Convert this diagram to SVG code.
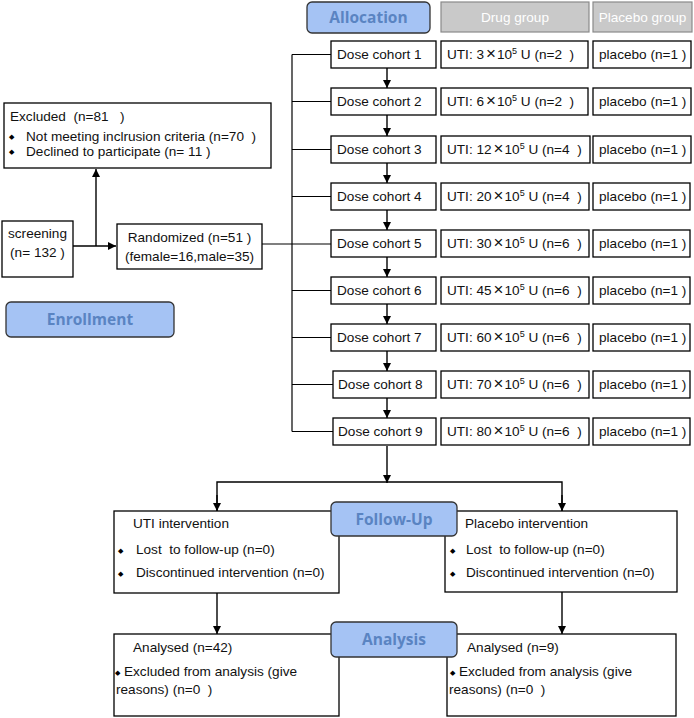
<svg xmlns="http://www.w3.org/2000/svg" width="694" height="718" viewBox="0 0 694 718" xml:space="preserve">
<style>
text{white-space:pre}
.box{fill:#fff;stroke:#000;stroke-width:1.3}
.hdr{fill:#c9c9c9;stroke:#8a8a8a;stroke-width:1.2}
.stage{fill:#a5c3f4;stroke:#333;stroke-width:1.3}
.t{font-family:"Liberation Sans",Arial,sans-serif;font-size:13.6px;fill:#111}
.tc{font-family:"Liberation Sans",Arial,sans-serif;font-size:13.6px;fill:#111;text-anchor:middle}
.th{font-family:"Liberation Sans",Arial,sans-serif;font-size:13.6px;fill:#fff;text-anchor:middle}
.ts{font-family:"Open Sans","Noto Sans",sans-serif;font-size:15.5px;font-weight:bold;fill:#5a84c2;text-anchor:middle}
.b{font-family:"DejaVu Sans",sans-serif;font-size:7px}
.ln{fill:none;stroke:#000;stroke-width:1.4}
.bus{fill:none;stroke:#000;stroke-width:1.2}
</style>
<defs>
<marker id="ah" viewBox="0 0 10 10" refX="10" refY="5" markerWidth="8" markerHeight="8" markerUnits="userSpaceOnUse" orient="auto">
<path d="M0,0 L10,5 L0,10 z" fill="#000"/>
</marker>
</defs>
<g id="connectors">
<line class="ln" x1="73" y1="246" x2="116" y2="246" marker-end="url(#ah)"/>
<line class="ln" x1="96" y1="246" x2="96" y2="169" marker-end="url(#ah)"/>
<line class="bus" x1="262" y1="244" x2="331" y2="244"/>
<line class="bus" x1="292" y1="54.5" x2="292" y2="431.5"/>
<line class="bus" x1="292" y1="54.5" x2="331" y2="54.5"/>
<line class="bus" x1="292" y1="101.5" x2="331" y2="101.5"/>
<line class="bus" x1="292" y1="149.5" x2="331" y2="149.5"/>
<line class="bus" x1="292" y1="196.5" x2="331" y2="196.5"/>
<line class="bus" x1="292" y1="290.5" x2="331" y2="290.5"/>
<line class="bus" x1="292" y1="337.5" x2="331" y2="337.5"/>
<line class="bus" x1="292" y1="384.5" x2="333" y2="384.5"/>
<line class="bus" x1="292" y1="431.5" x2="333" y2="431.5"/>
<line class="ln" x1="387" y1="68" x2="387" y2="88" marker-end="url(#ah)"/>
<line class="ln" x1="387" y1="115" x2="387" y2="136" marker-end="url(#ah)"/>
<line class="ln" x1="387" y1="163" x2="387" y2="183" marker-end="url(#ah)"/>
<line class="ln" x1="387" y1="210" x2="387" y2="230" marker-end="url(#ah)"/>
<line class="ln" x1="387" y1="257" x2="387" y2="277" marker-end="url(#ah)"/>
<line class="ln" x1="387" y1="304" x2="387" y2="324" marker-end="url(#ah)"/>
<line class="ln" x1="387" y1="351" x2="387" y2="371" marker-end="url(#ah)"/>
<line class="ln" x1="387" y1="398" x2="387" y2="418" marker-end="url(#ah)"/>
<line class="ln" x1="387" y1="446" x2="387" y2="483" marker-end="url(#ah)"/>
<polyline class="ln" points="217,511 217,482 562,482 562,511"/>
<line class="ln" x1="217" y1="495" x2="217" y2="511" marker-end="url(#ah)"/>
<line class="ln" x1="562" y1="495" x2="562" y2="511" marker-end="url(#ah)"/>
<line class="ln" x1="217" y1="593" x2="217" y2="634" marker-end="url(#ah)"/>
<line class="ln" x1="562" y1="592" x2="562" y2="634" marker-end="url(#ah)"/>
</g>
<g id="excluded">
<rect class="box" x="4" y="103" width="267" height="65"/>
<text class="t" x="10" y="121">Excluded  (n=81   )</text>
<text class="b" x="9" y="139">◆</text>
<text class="t" x="26" y="141">Not meeting inclrusion criteria (n=70  )</text>
<text class="b" x="9" y="154">◆</text>
<text class="t" x="26" y="156">Declined to participate (n= 11 )</text>
</g>
<g id="screening">
<rect class="box" x="2" y="221" width="71" height="56"/>
<text class="tc" x="37.5" y="238">screening</text>
<text class="tc" x="37.5" y="257">(n= 132 )</text>
</g>
<g id="randomized">
<rect class="box" x="117" y="224" width="145" height="45"/>
<text class="tc" x="189.5" y="242">Randomized (n=51 )</text>
<text class="tc" x="189.5" y="261">(female=16,male=35)</text>
</g>
<g id="enrollment">
<rect class="stage" x="6" y="302" width="168" height="35" rx="5"/>
<text class="ts" x="90" y="325">Enrollment</text>
</g>
<g id="allocation">
<rect class="stage" x="307" y="2" width="123" height="31" rx="5"/>
<text class="ts" x="368.5" y="23">Allocation</text>
</g>
<g id="drug-group">
<rect class="hdr" x="441" y="2" width="148" height="30"/>
<text class="th" x="515" y="22">Drug group</text>
</g>
<g id="placebo-group">
<rect class="hdr" x="593" y="2" width="99" height="30"/>
<text class="th" x="642.5" y="22">Placebo group</text>
</g>
<g id="cohort1">
<rect class="box" x="331" y="41" width="105" height="27"/>
<text class="t" x="337" y="59">Dose cohort 1</text>
<rect class="box" x="441" y="41" width="147" height="27"/>
<text class="t" x="447" y="59">UTI: 3<tspan dx="2" font-size="17">×</tspan><tspan dx="1">10</tspan><tspan font-size="9" dy="-5">5</tspan><tspan dy="5"> U (n=2  )</tspan></text>
<rect class="box" x="593" y="41" width="98" height="27"/>
<text class="t" x="599" y="59">placebo (n=1 )</text>
</g>
<g id="cohort2">
<rect class="box" x="331" y="88" width="105" height="27"/>
<text class="t" x="337" y="106">Dose cohort 2</text>
<rect class="box" x="441" y="88" width="147" height="27"/>
<text class="t" x="447" y="106">UTI: 6<tspan dx="2" font-size="17">×</tspan><tspan dx="1">10</tspan><tspan font-size="9" dy="-5">5</tspan><tspan dy="5"> U (n=2  )</tspan></text>
<rect class="box" x="593" y="88" width="98" height="27"/>
<text class="t" x="599" y="106">placebo (n=1 )</text>
</g>
<g id="cohort3">
<rect class="box" x="331" y="136" width="105" height="27"/>
<text class="t" x="337" y="154">Dose cohort 3</text>
<rect class="box" x="441" y="136" width="149" height="27"/>
<text class="t" x="447" y="154">UTI: 12<tspan dx="2" font-size="17">×</tspan><tspan dx="1">10</tspan><tspan font-size="9" dy="-5">5</tspan><tspan dy="5"> U (n=4  )</tspan></text>
<rect class="box" x="593" y="136" width="98" height="27"/>
<text class="t" x="599" y="154">placebo (n=1 )</text>
</g>
<g id="cohort4">
<rect class="box" x="331" y="183" width="105" height="27"/>
<text class="t" x="337" y="201">Dose cohort 4</text>
<rect class="box" x="441" y="183" width="148" height="27"/>
<text class="t" x="447" y="201">UTI: 20<tspan dx="2" font-size="17">×</tspan><tspan dx="1">10</tspan><tspan font-size="9" dy="-5">5</tspan><tspan dy="5"> U (n=4  )</tspan></text>
<rect class="box" x="593" y="183" width="97" height="27"/>
<text class="t" x="599" y="201">placebo (n=1 )</text>
</g>
<g id="cohort5">
<rect class="box" x="331" y="230" width="105" height="27"/>
<text class="t" x="337" y="248">Dose cohort 5</text>
<rect class="box" x="441" y="230" width="148" height="27"/>
<text class="t" x="447" y="248">UTI: 30<tspan dx="2" font-size="17">×</tspan><tspan dx="1">10</tspan><tspan font-size="9" dy="-5">5</tspan><tspan dy="5"> U (n=6  )</tspan></text>
<rect class="box" x="593" y="230" width="97" height="27"/>
<text class="t" x="599" y="248">placebo (n=1 )</text>
</g>
<g id="cohort6">
<rect class="box" x="331" y="277" width="105" height="27"/>
<text class="t" x="337" y="295">Dose cohort 6</text>
<rect class="box" x="441" y="277" width="148" height="27"/>
<text class="t" x="447" y="295">UTI: 45<tspan dx="2" font-size="17">×</tspan><tspan dx="1">10</tspan><tspan font-size="9" dy="-5">5</tspan><tspan dy="5"> U (n=6  )</tspan></text>
<rect class="box" x="593" y="277" width="97" height="27"/>
<text class="t" x="599" y="295">placebo (n=1 )</text>
</g>
<g id="cohort7">
<rect class="box" x="331" y="324" width="105" height="27"/>
<text class="t" x="337" y="342">Dose cohort 7</text>
<rect class="box" x="441" y="324" width="148" height="27"/>
<text class="t" x="447" y="342">UTI: 60<tspan dx="2" font-size="17">×</tspan><tspan dx="1">10</tspan><tspan font-size="9" dy="-5">5</tspan><tspan dy="5"> U (n=6  )</tspan></text>
<rect class="box" x="593" y="324" width="97" height="27"/>
<text class="t" x="599" y="342">placebo (n=1 )</text>
</g>
<g id="cohort8">
<rect class="box" x="333" y="371" width="103" height="27"/>
<text class="t" x="338" y="389">Dose cohort 8</text>
<rect class="box" x="441" y="371" width="148" height="27"/>
<text class="t" x="447" y="389">UTI: 70<tspan dx="2" font-size="17">×</tspan><tspan dx="1">10</tspan><tspan font-size="9" dy="-5">5</tspan><tspan dy="5"> U (n=6  )</tspan></text>
<rect class="box" x="593" y="371" width="97" height="27"/>
<text class="t" x="599" y="389">placebo (n=1 )</text>
</g>
<g id="cohort9">
<rect class="box" x="333" y="418" width="103" height="27"/>
<text class="t" x="338" y="436">Dose cohort 9</text>
<rect class="box" x="441" y="418" width="148" height="27"/>
<text class="t" x="447" y="436">UTI: 80<tspan dx="2" font-size="17">×</tspan><tspan dx="1">10</tspan><tspan font-size="9" dy="-5">5</tspan><tspan dy="5"> U (n=6  )</tspan></text>
<rect class="box" x="593" y="418" width="97" height="27"/>
<text class="t" x="599" y="436">placebo (n=1 )</text>
</g>
<g id="uti-intervention">
<rect class="box" x="114" y="511" width="225" height="82"/>
<text class="t" x="133" y="528">UTI intervention</text>
<text class="b" x="118" y="553">◆</text>
<text class="t" x="136" y="554">Lost  to follow-up (n=0)</text>
<text class="b" x="118" y="576">◆</text>
<text class="t" x="136" y="577">Discontinued intervention (n=0)</text>
</g>
<g id="placebo-intervention">
<rect class="box" x="445" y="511" width="232" height="81"/>
<text class="t" x="465" y="528">Placebo intervention</text>
<text class="b" x="450" y="553">◆</text>
<text class="t" x="466" y="554">Lost  to follow-up (n=0)</text>
<text class="b" x="450" y="576">◆</text>
<text class="t" x="466" y="577">Discontinued intervention (n=0)</text>
</g>
<g id="followup">
<rect class="stage" x="331" y="502" width="126" height="34" rx="5"/>
<text class="ts" x="394" y="525">Follow-Up</text>
</g>
<g id="analysed-uti">
<rect class="box" x="114" y="634" width="225" height="82"/>
<text class="t" x="133" y="652">Analysed (n=42)</text>
<text class="b" x="115" y="675">◆</text>
<text class="t" x="124" y="676">Excluded from analysis (give</text>
<text class="t" x="116" y="694">reasons) (n=0  )</text>
</g>
<g id="analysed-placebo">
<rect class="box" x="447" y="634" width="229" height="82"/>
<text class="t" x="467" y="652">Analysed (n=9)</text>
<text class="b" x="450" y="675">◆</text>
<text class="t" x="459" y="676">Excluded from analysis (give</text>
<text class="t" x="449" y="694">reasons) (n=0  )</text>
</g>
<g id="analysis">
<rect class="stage" x="331" y="622" width="126" height="35" rx="5"/>
<text class="ts" x="394" y="645">Analysis</text>
</g>
</svg>
